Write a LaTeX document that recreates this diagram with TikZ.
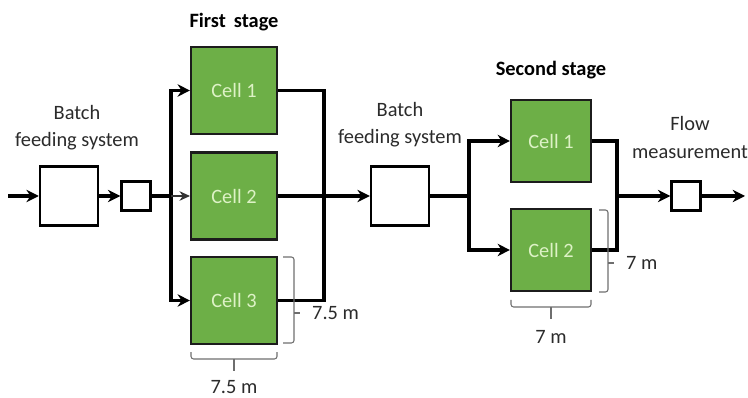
\documentclass[tikz,border=0pt]{standalone}
\usepackage{fontspec}
\setmainfont{Carlito}
\usetikzlibrary{arrows.meta,calc}
\definecolor{cellGreen}{HTML}{6DAF47}
\definecolor{cellText}{HTML}{DDF2C6}
\definecolor{cellEdge}{HTML}{1C1C1C}
\definecolor{dimGray}{HTML}{6E6E6E}
\definecolor{noteInk}{HTML}{2B2B2B}
\tikzset{
  cellbox/.style={draw=cellEdge, fill=cellGreen, text=cellText, line width=1.2pt,
                  minimum width=1.72cm, minimum height=1.74cm},
  cellboxB/.style={cellbox, minimum width=1.6cm, minimum height=1.64cm},
  unitbox/.style={draw=black, fill=white, line width=1.4pt, minimum width=1.16cm, minimum height=1.18cm},
  meterbox/.style={unitbox, minimum width=0.58cm, minimum height=0.58cm},
  flowline/.style={draw=black, line width=1.9pt},
  flowarrow/.style={flowline, -{Stealth[length=7pt, width=7pt]}},
  thinarrow/.style={draw=black!80, line width=0.6pt, -{Stealth[length=6pt, width=5.5pt]}},
  dimline/.style={draw=dimGray, line width=0.6pt, rounded corners=1.5pt},
  boxnote/.style={text=noteInk, align=center},
  stagetitle/.style={text=black, font=\fontsize{11.6}{15.4}\selectfont\bfseries}
}

\begin{document}
\begin{tikzpicture}[every node/.style={font=\fontsize{11.6}{15.4}\selectfont}]
\useasboundingbox (0,0) rectangle (14.96,7.94);

% junction points of the two stages
\coordinate (inlet) at (0.16,4.02);
\coordinate (bus1) at (3.42,4.02);
\coordinate (join1) at (6.48,4.02);
\coordinate (bus2) at (9.38,4.02);
\coordinate (join2) at (12.34,4.02);
\coordinate (outlet) at (14.9,4.02);

% feeding and metering boxes
\node[unitbox] (feed1) at (1.38,4.02) {};
\node[meterbox] (meter1) at (2.72,4.02) {};
\node[unitbox] (feed2) at (8.00,4.02) {};
\node[meterbox] (meter2) at (13.72,4.02) {};

\node[boxnote] at (1.54,5.38) {Batch\\feeding system};
\node[boxnote] at (8.00,5.45) {Batch\\feeding system};
\node[boxnote] at (13.80,5.19) {Flow\\measurement};

% first stage
\node[stagetitle] at (4.68,7.50) {First\, stage};
\node[cellbox] (s1c1) at (4.68,6.13) {Cell 1};
\node[cellbox] (s1c2) at (4.68,4.02) {Cell 2};
\node[cellbox] (s1c3) at (4.68,1.93) {Cell 3};

% second stage
\node[stagetitle] at (11.02,6.54) {Second stage};
\node[cellboxB] (s2c1) at (11.02,5.12) {Cell 1};
\node[cellboxB] (s2c2) at (11.02,2.94) {Cell 2};

% flow path
\draw[flowarrow] (inlet) -- (feed1.west);
\draw[flowarrow] (feed1.east) -- (meter1.west);
\draw[flowline] (meter1.east) -- (bus1);
\draw[flowarrow] (bus1) |- (s1c1.west);
\draw[flowarrow] (bus1) |- (s1c3.west);
\draw[thinarrow] (bus1) -- (s1c2.west);
\draw[flowline] (s1c1.east) -| (join1);
\draw[flowline] (s1c3.east) -| (join1);
\draw[flowline] (s1c2.east) -- (join1);
\draw[flowarrow] (join1) -- (feed2.west);
\draw[flowline] (feed2.east) -- (bus2);
\draw[flowarrow] (bus2) |- (s2c1.west);
\draw[flowarrow] (bus2) |- (s2c2.west);
\draw[flowline] (s2c1.east) -| (join2);
\draw[flowline] (s2c2.east) -| (join2);
\draw[flowarrow] (join2) -- (meter2.west);
\draw[flowarrow] (meter2.east) -- (outlet);

% cell dimensions
\draw[dimline] (5.66,2.80) -- (5.88,2.80) -- (5.88,1.08) -- (5.66,1.08);
\draw[dimline] (5.88,1.68) -- (6.00,1.68);
\node[text=noteInk, anchor=west] at (6.12,1.68) {7.5 m};
\draw[dimline] (3.82,0.90) -- (3.82,0.76) -- (5.54,0.76) -- (5.54,0.90);
\draw[dimline] (4.68,0.76) -- (4.68,0.52);
\node[text=noteInk] at (4.68,0.20) {7.5 m};

\draw[dimline] (11.98,3.74) -- (12.16,3.74) -- (12.16,2.10) -- (11.98,2.10);
\draw[dimline] (12.16,2.68) -- (12.28,2.68);
\node[text=noteInk, anchor=west] at (12.40,2.68) {7 m};
\draw[dimline] (10.22,1.94) -- (10.22,1.80) -- (11.82,1.80) -- (11.82,1.94);
\draw[dimline] (11.02,1.80) -- (11.02,1.56);
\node[text=noteInk] at (11.02,1.20) {7 m};

\end{tikzpicture}
\end{document}
